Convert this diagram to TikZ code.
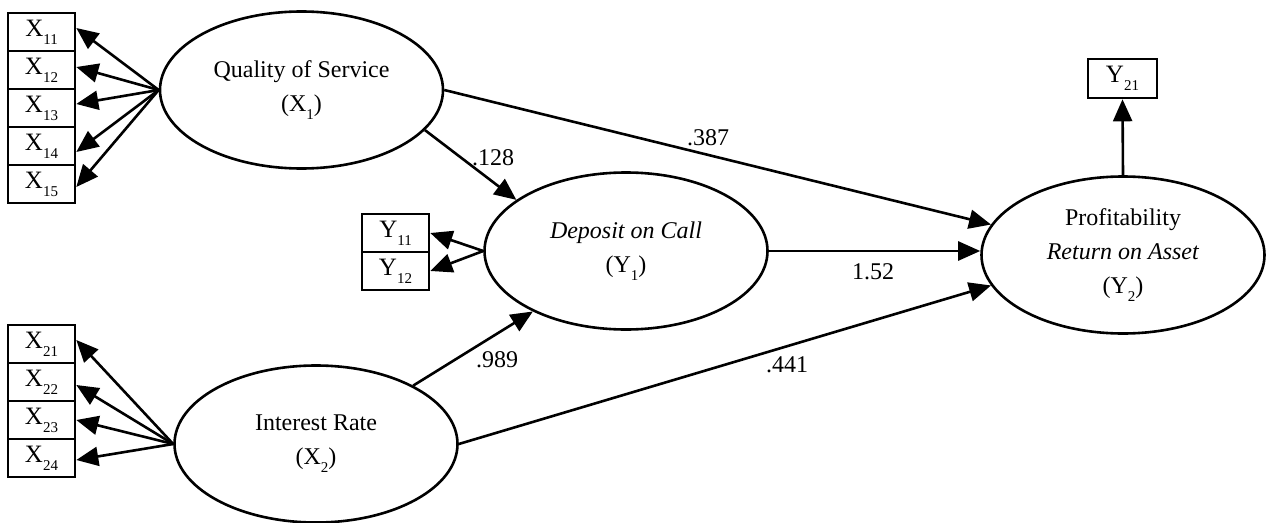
\documentclass[tikz,border=0pt]{standalone}
\usepackage{fontspec}
\setmainfont{Liberation Serif}
\usetikzlibrary{shapes.geometric,arrows.meta}
\newcommand\lsub[1]{\raisebox{-8pt}{\fontsize{15pt}{15pt}\selectfont #1}}
\begin{document}
\begin{tikzpicture}[x=1pt,y=-1pt,
  lat/.style={ellipse,draw,line width=2.6pt,minimum width=283pt,minimum height=157pt,inner sep=0pt,align=center,font=\fontsize{24pt}{34pt}\selectfont},
  ind/.style={rectangle,draw,line width=2.6pt,minimum width=67pt,minimum height=38pt,inner sep=0pt,font=\fontsize{25pt}{26pt}\selectfont},
  arr/.style={line width=2.6pt,-{Triangle[length=22pt,width=19pt]}},
  coef/.style={font=\fontsize{24pt}{26pt}\selectfont,inner sep=0pt}]
\useasboundingbox (0,0) rectangle (1266,522);

% latent variables
\node[lat] (QoS) at (301.5,90) {Quality of Service\\(X\lsub{1})};
\node[lat] (Dep) at (626,251) {\textit{Deposit on Call}\\(Y\lsub{1})};
\node[lat] (Prof) at (1123,255) {Profitability\\\textit{Return on Asset}\\(Y\lsub{2})};
\node[lat] (IR) at (316,444) {Interest Rate\\(X\lsub{2})};

% indicators
\node[ind] (X11) at (41.5,32) {X\lsub{11}\hspace{10pt}};
\node[ind] (X12) at (41.5,70) {X\lsub{12}\hspace{10pt}};
\node[ind] (X13) at (41.5,108) {X\lsub{13}\hspace{10pt}};
\node[ind] (X14) at (41.5,146) {X\lsub{14}\hspace{10pt}};
\node[ind] (X15) at (41.5,184) {X\lsub{15}\hspace{10pt}};

\node[ind] (X21) at (41.5,344) {X\lsub{21}\hspace{10pt}};
\node[ind] (X22) at (41.5,382) {X\lsub{22}\hspace{10pt}};
\node[ind] (X23) at (41.5,420) {X\lsub{23}\hspace{10pt}};
\node[ind] (X24) at (41.5,458) {X\lsub{24}\hspace{10pt}};

\node[ind] (Y11) at (395.5,233) {Y\lsub{11}\hspace{10pt}};
\node[ind] (Y12) at (395.5,271) {Y\lsub{12}\hspace{10pt}};

\node[ind,minimum width=69pt,minimum height=39pt] (Y21) at (1122.5,78.5) {Y\lsub{21}};

% loadings
\draw[arr] (QoS.west) -- ([yshift=4pt]X11.east);
\draw[arr] (QoS.west) -- ([yshift=3pt]X12.east);
\draw[arr] (QoS.west) -- ([yshift=4pt]X13.east);
\draw[arr] (QoS.west) -- ([yshift=-6pt]X14.east);
\draw[arr] (QoS.west) -- ([yshift=-3pt]X15.east);

\draw[arr] (IR.west) -- ([yshift=4pt]X21.east);
\draw[arr] (IR.west) -- ([yshift=-3pt]X22.east);
\draw[arr] (IR.west) -- (X23.east);
\draw[arr] (IR.west) -- ([yshift=-2pt]X24.east);

\draw[arr] (Dep.west) -- (Y11.east);
\draw[arr] (Dep.west) -- (Y12.east);

\draw[arr] (Prof.north) -- (Y21.south);

% structural paths
\draw[arr] (QoS.-18.8) -- (Dep.155.2);
\draw[arr] (QoS.east) -- (Prof.167);
\draw[arr] (Dep.east) -- (Dep.east -| Prof.west);
\draw[arr] (IR.31) -- (Dep.213.7);
\draw[arr] (IR.east) -- (Prof.193.4);

% coefficients
\node[coef] (c128) at (493,158) {.128};
\node[coef] (c387) at (708,138) {.387};
\node[coef] (c152) at (873,272) {1.52};
\node[coef] (c989) at (497,360) {.989};
\node[coef] (c441) at (787,365) {.441};
\end{tikzpicture}
\end{document}
